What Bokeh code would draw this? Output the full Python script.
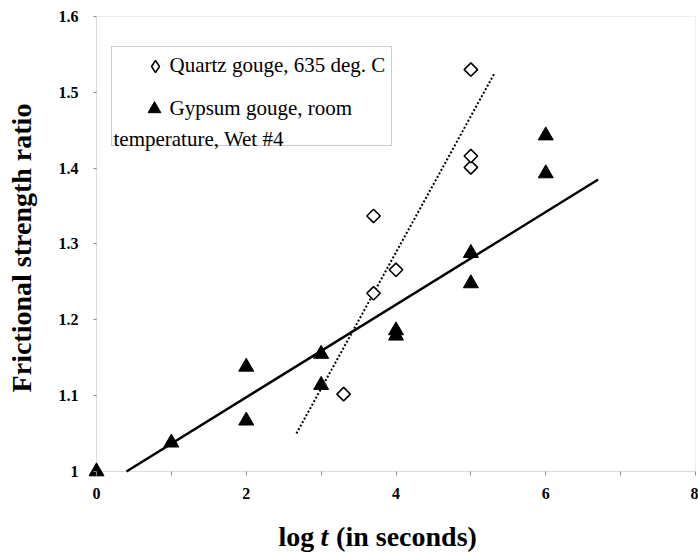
from bokeh.plotting import figure
from bokeh.models import (Range1d, FixedTicker, CustomJSTickFormatter, Legend, LegendItem,
                          Label, BoxAnnotation, ColumnDataSource)
from bokeh.core.properties import value
from bokeh.embed import file_html
from bokeh.resources import INLINE

# ---------------- data ----------------
quartz_x = [3.3, 3.7, 3.7, 4.0, 5.0, 5.0, 5.0]
quartz_y = [1.102, 1.235, 1.337, 1.266, 1.401, 1.416, 1.530]
gypsum_x = [0, 1, 2, 2, 3, 3, 4, 4, 5, 5, 6, 6]
gypsum_y = [1.0, 1.038, 1.138, 1.067, 1.155, 1.114, 1.186, 1.179, 1.288, 1.248, 1.443, 1.393]
quartz_fit_x = [2.67, 5.32]
quartz_fit_y = [1.05, 1.526]
gypsum_fit_x = [0.4, 6.7]
gypsum_fit_y = [1.0, 1.385]
x_ticks = [0, 2, 4, 6, 8]
x_minor_ticks = [1, 3, 5, 7]
y_ticks = [1.0, 1.1, 1.2, 1.3, 1.4, 1.5, 1.6]
x_lim = (0, 8)
y_lim = (1.0, 1.6)
quartz_label = "Quartz gouge, 635 deg. C"
gypsum_label_1 = "Gypsum gouge, room"
gypsum_label_2 = "temperature, Wet #4"
x_title_parts = ["log", "t", "(in seconds)"]
x_title_styles = ["bold", "bold italic", "bold"]
y_title = "Frictional strength ratio"

FONT = "Liberation Serif"
GRAY = "#8c8c8c"

# small padding of the ranges so the corner marker is not clipped
pad_x = 8 / 74.875
pad_y = 8 / 758.3
p = figure(width=698, height=552, output_backend="svg", toolbar_location=None,
           x_range=Range1d(x_lim[0] - pad_x, x_lim[1]),
           y_range=Range1d(y_lim[0] - pad_y, y_lim[1]),
           min_border_left=88, min_border_right=3, min_border_top=16, min_border_bottom=73)
p.background_fill_color = "white"
p.border_fill_color = "white"
p.outline_line_color = None
p.grid.visible = False

# plot frame (drawn at the axis limits)
p.add_layout(BoxAnnotation(left=x_lim[0], right=x_lim[1], bottom=y_lim[0], top=y_lim[1],
                           fill_alpha=0, line_color=GRAY, line_width=1, level="underlay"))

# trend lines
p.line(gypsum_fit_x, gypsum_fit_y, line_color="black", line_width=2.5)
p.line(quartz_fit_x, quartz_fit_y, line_color="black", line_width=2, line_dash="2 2")

# points
q_src = ColumnDataSource(dict(x=quartz_x, y=quartz_y))
# legend key renderer for quartz (diamond key; tiny in the plot, hidden under the markers)
q_key = p.scatter("x", "y", source=q_src, marker="diamond", size=1,
                  fill_color="white", line_color="black", line_width=1.5)
q = p.scatter("x", "y", source=q_src, marker="square", size=9.5, angle=0.785398,
              fill_color="white", line_color="black", line_width=1.6)
g = p.scatter(gypsum_x, gypsum_y, marker="triangle", size=15,
              fill_color="black", line_color="black", line_width=1)

# axes
xa = p.xaxis[0]
xa.ticker = FixedTicker(ticks=x_ticks, minor_ticks=x_minor_ticks)
xa.axis_line_color = None
xa.major_tick_line_color = GRAY
xa.minor_tick_line_color = GRAY
xa.major_tick_in = 8
xa.major_tick_out = -4
xa.minor_tick_in = 8
xa.minor_tick_out = -4
xa.major_label_text_font = FONT
xa.major_label_text_font_style = "bold"
xa.major_label_text_font_size = "16px"
xa.major_label_text_color = "black"
xa.major_label_standoff = 12

ya = p.yaxis[0]
ya.ticker = FixedTicker(ticks=y_ticks)
ya.formatter = CustomJSTickFormatter(code="return String(Math.round(tick*10)/10);")
ya.axis_line_color = None
ya.major_tick_line_color = GRAY
ya.minor_tick_line_color = None
ya.major_tick_in = 8
ya.major_tick_out = -5
ya.major_label_text_font = FONT
ya.major_label_text_font_style = "bold"
ya.major_label_text_font_size = "16px"
ya.major_label_text_color = "black"
ya.major_label_standoff = 10
ya.axis_label = y_title
ya.axis_label_text_font = FONT
ya.axis_label_text_font_style = "bold"
ya.axis_label_text_font_size = "28px"
ya.axis_label_text_color = "black"
ya.axis_label_standoff = 19

# x-axis title (with italic t) as text drawn above the frame clip
title_x = [2.4307, 2.9923, 3.2000]
title_y = 0.9145
for txt, tx, style in zip(x_title_parts, title_x, x_title_styles):
    p.text(x=[tx], y=[title_y], text=[txt], text_font=value(FONT), text_font_style=style,
           text_font_size="28px", text_color="black", text_baseline="alphabetic",
           text_align="left", level="overlay")

# legend box
p.add_layout(BoxAnnotation(left=0.200, right=3.940, top=1.5604, bottom=1.4299,
                           fill_alpha=0, line_color="#555555", line_width=1))

common = dict(padding=0, margin=0, spacing=0, border_line_alpha=0, background_fill_alpha=0,
              label_text_font=FONT, label_text_font_size="21px", label_text_color="black")
legA = Legend(items=[LegendItem(label=quartz_label, renderers=[q_key])],
              location=(51.5, 397.5), glyph_width=30, glyph_height=32, label_height=32,
              label_standoff=0, **common)
legB = Legend(items=[LegendItem(label=gypsum_label_1, renderers=[g])],
              location=(49.5, 352), glyph_width=32, glyph_height=37, label_height=37,
              label_standoff=0, **common)
p.add_layout(legA)
p.add_layout(legB)
p.add_layout(Label(x=0.227, y=1.4391, text=gypsum_label_2, text_font=FONT,
                   text_font_size="21px", text_color="black", text_baseline="alphabetic"))

open("out.html", "w").write(file_html(p, INLINE))
